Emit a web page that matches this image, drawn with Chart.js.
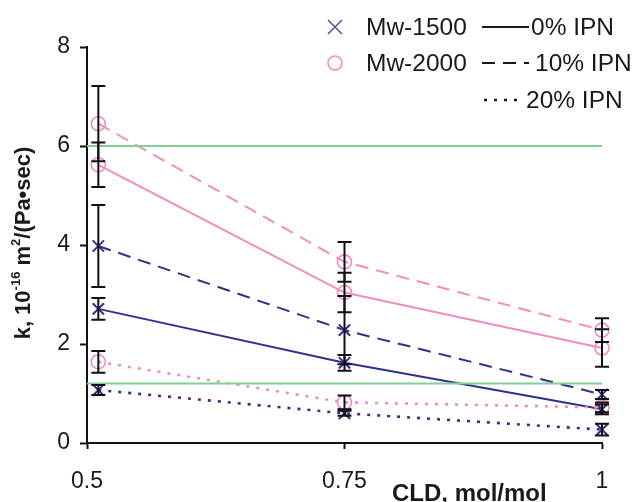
<!DOCTYPE html>
<html>
<head>
<meta charset="utf-8">
<script src="https://cdn.jsdelivr.net/npm/chart.js@4"></script>
<style>
  html, body { margin: 0; padding: 0; background: #fff; }
  canvas { display: block; }
</style>
</head>
<body>
<canvas id="chart" width="640" height="502"></canvas>
<script>
// datos
const cldValues = [0.511, 0.75, 1.0];
const xTickLabels = { 0.5: '0.5', 0.75: '0.75', 1: '1' };
const yTicks = [0, 2, 4, 6, 8];

const mw1500_0 = [2.71, 1.62, 0.68];
const mw1500_10 = [3.98, 2.28, 0.98];
const mw1500_20 = [1.07, 0.60, 0.27];
const mw2000_0 = [5.62, 3.04, 1.92];
const mw2000_10 = [6.45, 3.66, 2.28];
const mw2000_20 = [1.64, 0.82, 0.72];

const err1500_0 = [0.22, 0.16, 0.10];
const err1500_10 = [0.83, 0.69, 0.09];
const err1500_20 = [0.10, 0.05, 0.12];
const err2000_0 = [0.45, 0.40, 0.38];
const err2000_10 = [0.76, 0.40, 0.24];
const err2000_20 = [0.22, 0.14, 0.10];

const refLines = [6.0, 1.2];
const xRange = [0.5, 1.0];

const BLUE = '#34308a';
const PINK = '#f28cbf';
const GREEN = '#82cf98';
const TEXT = '#1a1a1a';
const FONT = "'Liberation Sans', Arial, sans-serif";

const estilos = {
  '0': [],
  '10': [13, 8],
  '20': [3, 7]
};

function serie(vals, errs, color, tipo, marker) {
  return {
    data: vals.map((v, i) => ({ x: cldValues[i], y: v })),
    errores: errs,
    borderColor: color,
    borderWidth: tipo === '20' ? 2.6 : 2,
    borderDash: estilos[tipo],
    pointStyle: marker,
    pointRadius: marker === 'circle' ? 7 : 8,
    pointBorderColor: color,
    pointBackgroundColor: 'rgba(0,0,0,0)',
    pointBorderWidth: marker === 'circle' ? 1.6 : 2,
    fill: false,
    tension: 0,
    clip: false
  };
}

const datasets = [];
refLines.forEach(v => {
  datasets.push({
    data: [{ x: xRange[0], y: v }, { x: xRange[1], y: v }],
    borderColor: GREEN, borderWidth: 2, pointRadius: 0, fill: false
  });
});
datasets.push(serie(mw2000_10, err2000_10, PINK, '10', 'circle'));
datasets.push(serie(mw2000_0, err2000_0, PINK, '0', 'circle'));
datasets.push(serie(mw2000_20, err2000_20, PINK, '20', 'circle'));
datasets.push(serie(mw1500_10, err1500_10, BLUE, '10', 'crossRot'));
datasets.push(serie(mw1500_0, err1500_0, BLUE, '0', 'crossRot'));
datasets.push(serie(mw1500_20, err1500_20, BLUE, '20', 'crossRot'));

// barras de error en negro
const errorBars = {
  id: 'errorBars',
  afterDatasetsDraw(chart) {
    const ctx = chart.ctx;
    const xs = chart.scales.x, ys = chart.scales.y;
    ctx.save();
    ctx.strokeStyle = '#111';
    ctx.lineWidth = 2;
    chart.data.datasets.forEach(ds => {
      if (!ds.errores) return;
      ds.data.forEach((p, i) => {
        const px = xs.getPixelForValue(p.x);
        const top = ys.getPixelForValue(p.y + ds.errores[i]);
        const bot = ys.getPixelForValue(p.y - ds.errores[i]);
        ctx.beginPath();
        ctx.moveTo(px, top); ctx.lineTo(px, bot);
        ctx.moveTo(px - 7, top); ctx.lineTo(px + 7, top);
        ctx.moveTo(px - 7, bot); ctx.lineTo(px + 7, bot);
        ctx.stroke();
      });
    });
    ctx.restore();
  }
};

// leyenda y titulos de ejes
const extras = {
  id: 'extras',
  afterDraw(chart) {
    const ctx = chart.ctx;
    ctx.save();
    ctx.fillStyle = TEXT;
    ctx.textBaseline = 'middle';
    ctx.font = '24.5px ' + FONT;

    // marcadores de la leyenda
    ctx.strokeStyle = '#5a52a8';
    ctx.lineWidth = 1.6;
    ctx.beginPath();
    ctx.moveTo(328, 20); ctx.lineTo(342, 34);
    ctx.moveTo(342, 20); ctx.lineTo(328, 34);
    ctx.stroke();
    ctx.strokeStyle = PINK;
    ctx.beginPath();
    ctx.arc(335, 63, 7, 0, Math.PI * 2);
    ctx.stroke();
    ctx.fillText('Mw-1500', 366, 28);
    ctx.fillText('Mw-2000', 366, 64);

    const filas = [['0', '0% IPN', 27], ['10', '10% IPN', 63], ['20', '20% IPN', 100]];
    ctx.strokeStyle = TEXT;
    filas.forEach(([tipo, txt, y]) => {
      ctx.lineWidth = tipo === '20' ? 2.4 : 2;
      ctx.setLineDash(tipo === '10' ? [13, 8] : (tipo === '20' ? [3, 7] : []));
      ctx.beginPath();
      ctx.moveTo(tipo === '20' ? 484 : 482, y);
      ctx.lineTo(tipo === '20' ? 522 : 529, y);
      ctx.stroke();
      ctx.setLineDash([]);
      ctx.fillText(txt, tipo === '0' ? 531 : (tipo === '10' ? 535 : 526), y + 1);
    });

    // titulo eje x
    ctx.font = 'bold 24px ' + FONT;
    ctx.fillText('CLD, mol/mol', 392, 494);

    // titulo eje y con superindices
    ctx.translate(24, 243);
    ctx.rotate(-Math.PI / 2);
    const partes = [
      ['k, 10', 22, 0], ['-16', 13, -8], [' m', 22, 0], ['2', 13, -8], ['/(Pa\u2022sec)', 22, 0]
    ];
    let total = 0;
    partes.forEach(([t, s]) => { ctx.font = 'bold ' + s + 'px ' + FONT; total += ctx.measureText(t).width; });
    let x = -total / 2;
    partes.forEach(([t, s, dy]) => {
      ctx.font = 'bold ' + s + 'px ' + FONT;
      ctx.fillText(t, x, dy);
      x += ctx.measureText(t).width;
    });
    ctx.restore();
  }
};

new Chart(document.getElementById('chart'), {
  type: 'line',
  data: { datasets },
  options: {
    responsive: false,
    animation: false,
    devicePixelRatio: 1,
    layout: { padding: { left: 0, top: 47, right: 38, bottom: 0 } },
    plugins: { legend: { display: false }, tooltip: { enabled: false } },
    scales: {
      x: {
        type: 'linear',
        min: xRange[0], max: xRange[1],
        afterFit: s => { s.height = 59; },
        afterBuildTicks: s => { s.ticks = Object.keys(xTickLabels).map(v => ({ value: +v })); },
        ticks: {
          callback: v => xTickLabels[v] ?? '',
          color: TEXT, font: { family: FONT, size: 23 }, padding: 19, maxRotation: 0
        },
        grid: { drawOnChartArea: false, drawTicks: true, tickLength: 6, color: '#111', tickWidth: 2 },
        border: { display: true, color: '#111', width: 2 }
      },
      y: {
        min: 0, max: 8,
        afterFit: s => { s.width = 87; },
        afterBuildTicks: s => { s.ticks = yTicks.map(v => ({ value: v })); },
        ticks: { color: TEXT, font: { family: FONT, size: 23 }, padding: 10 },
        grid: { drawOnChartArea: false, drawTicks: true, tickLength: 7, color: '#111', tickWidth: 2 },
        border: { display: true, color: '#111', width: 2 }
      }
    }
  },
  plugins: [errorBars, extras]
});
</script>
</body>
</html>
